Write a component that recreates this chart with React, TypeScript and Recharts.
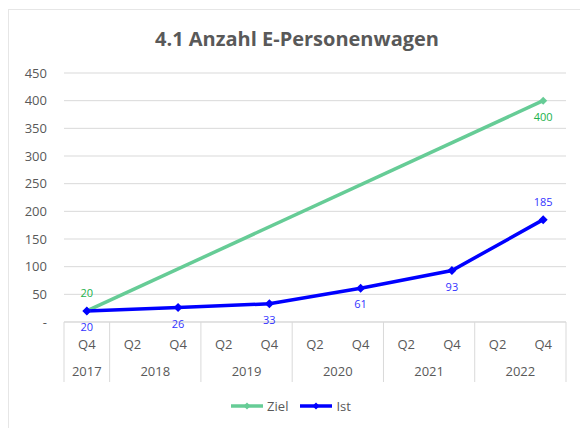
import React from "react";
import {
  LineChart,
  Line,
  XAxis,
  YAxis,
  CartesianGrid,
  LabelList,
} from "recharts";

const quarters = ["Q4", "Q2", "Q4", "Q2", "Q4", "Q2", "Q4", "Q2", "Q4", "Q2", "Q4"];
const years = ["2017", "2018", "2018", "2019", "2019", "2020", "2020", "2021", "2021", "2022", "2022"];
const ziel = [20, null, null, null, null, null, null, null, null, null, 400];
const ist = [20, null, 26, null, 33, null, 61, null, 93, null, 185];
const yTicks = [0, 50, 100, 150, 200, 250, 300, 350, 400, 450];

const data = quarters.map((q, i) => ({
  idx: i,
  q,
  year: years[i],
  ziel: ziel[i],
  ist: ist[i],
}));

const W = 580;
const H = 428;
const M = { top: 73, right: 14, bottom: 46, left: 0 };
const Y_W = 64;
const PLOT_BOTTOM = H - M.bottom - 60;
const BAND = (W - M.left - Y_W - M.right) / quarters.length;

const FONT = "'Open Sans', 'Noto Sans', sans-serif";
const GRAY = "#595959";
const LINE_GRAY = "#d9d9d9";
const GREEN = "#66cc96";
const GREEN_TXT = "#22b14c";
const BLUE = "#0000ff";
const BLUE_TXT = "#3333ff";

function Diamond({ cx, cy, fill, r }: any) {
  if (cx == null || cy == null || isNaN(cx) || isNaN(cy)) return null;
  return (
    <path
      d={`M${cx},${cy - r}L${cx + r},${cy}L${cx},${cy + r}L${cx - r},${cy}Z`}
      fill={fill}
    />
  );
}

function QuarterTick({ x, payload }: any) {
  const i = payload.value;
  const startsGroup = i === 0 || years[i] !== years[i - 1];
  const last = i === quarters.length - 1;
  return (
    <g>
      {startsGroup && (
        <line
          x1={x - BAND / 2}
          x2={x - BAND / 2}
          y1={PLOT_BOTTOM}
          y2={PLOT_BOTTOM + 60}
          stroke={LINE_GRAY}
        />
      )}
      {last && (
        <line
          x1={x + BAND / 2}
          x2={x + BAND / 2}
          y1={PLOT_BOTTOM}
          y2={PLOT_BOTTOM + 60}
          stroke={LINE_GRAY}
        />
      )}
      <text
        x={x}
        y={PLOT_BOTTOM + 27}
        textAnchor="middle"
        fontSize={13}
        fill={GRAY}
        fontFamily={FONT}
      >
        {quarters[i]}
      </text>
    </g>
  );
}

function YearTick({ x, payload }: any) {
  const i = payload.value;
  const startsGroup = i === 0 || years[i] !== years[i - 1];
  if (!startsGroup) return null;
  const size = years.filter((y) => y === years[i]).length;
  const cx = x + ((size - 1) * BAND) / 2;
  return (
    <text
      x={cx}
      y={PLOT_BOTTOM + 54}
      textAnchor="middle"
      fontSize={13}
      fill={GRAY}
      fontFamily={FONT}
    >
      {years[i]}
    </text>
  );
}

function PointLabel(color: string, place: (i: number) => "above" | "below") {
  return (props: any) => {
    const { x, y, value, index } = props;
    if (value == null || x == null || y == null) return null;
    const above = place(index) === "above";
    return (
      <text
        x={x}
        y={above ? y - 14 : y + 20}
        textAnchor="middle"
        fontSize={11}
        fill={color}
        fontFamily={FONT}
      >
        {value}
      </text>
    );
  };
}

function LegendBox() {
  const items = [
    { name: "Ziel", color: GREEN },
    { name: "Ist", color: BLUE },
  ];
  return (
    <div
      style={{
        position: "absolute",
        top: 397,
        left: 0,
        width: W,
        display: "flex",
        justifyContent: "center",
        gap: 10,
        fontFamily: FONT,
        fontSize: 13,
        color: GRAY,
      }}
    >
      {items.map((it) => (
        <div key={it.name} style={{ display: "flex", alignItems: "center" }}>
          <svg width={36} height={16}>
            <line x1={2} x2={34} y1={8} y2={8} stroke={it.color} strokeWidth={3.5} />
            <Diamond cx={18} cy={8} r={3.5} fill={it.color} />
          </svg>
          <span style={{ marginLeft: 2 }}>{it.name}</span>
        </div>
      ))}
    </div>
  );
}

export default function App() {
  const pad = { left: BAND / 2, right: BAND / 2 };
  return (
    <div
      style={{
        position: "fixed",
        left: 0,
        top: 0,
        width: W,
        height: H,
        background: "#fff",
      }}
    >
      <div
        style={{
          position: "absolute",
          left: 8,
          top: 9,
          width: W - 8,
          height: H - 9,
          borderLeft: "1px solid #e6e6e6",
          borderTop: "1px solid #e6e6e6",
        }}
      />
      <div
        style={{
          position: "absolute",
          top: 25,
          left: 0,
          width: W,
          textAlign: "center",
          fontFamily: FONT,
          fontWeight: 700,
          fontSize: 20,
          color: GRAY,
          paddingLeft: 14,
          boxSizing: "border-box",
        }}
      >
        4.1 Anzahl E-Personenwagen
      </div>
      <LineChart
        width={W}
        height={H - 46}
        data={data}
        margin={{ top: M.top, right: M.right, bottom: 0, left: M.left }}
        style={{ position: "absolute", left: 0, top: 0 }}
      >
        <CartesianGrid vertical={false} stroke={LINE_GRAY} />
        <XAxis
          dataKey="idx"
          type="category"
          interval={0}
          height={30}
          padding={pad}
          tick={<QuarterTick />}
          tickLine={false}
          axisLine={{ stroke: LINE_GRAY }}
        />
        <XAxis
          dataKey="idx"
          xAxisId="year"
          type="category"
          interval={0}
          height={30}
          padding={pad}
          tick={<YearTick />}
          tickLine={false}
          axisLine={false}
        />
        <YAxis
          width={Y_W}
          domain={[0, 450]}
          ticks={yTicks}
          interval={0}
          tickFormatter={(v: number) => (v === 0 ? "-" : String(v))}
          tick={{ fontSize: 13, fill: GRAY, fontFamily: FONT }}
          tickSize={0}
          tickMargin={17}
          axisLine={false}
          tickLine={false}
        />
        <Line
          dataKey="ziel"
          stroke={GREEN}
          strokeWidth={3.5}
          connectNulls
          isAnimationActive={false}
          dot={(p: any) => <Diamond key={`z${p.index}`} {...p} r={4} fill={GREEN} />}
          activeDot={false}
        >
          <LabelList
            dataKey="ziel"
            content={PointLabel(GREEN_TXT, (i) => (i === 0 ? "above" : "below"))}
          />
        </Line>
        <Line
          dataKey="ist"
          stroke={BLUE}
          strokeWidth={3.5}
          connectNulls
          isAnimationActive={false}
          dot={(p: any) => <Diamond key={`i${p.index}`} {...p} r={4.5} fill={BLUE} />}
          activeDot={false}
        >
          <LabelList
            dataKey="ist"
            content={PointLabel(BLUE_TXT, (i) => (i === quarters.length - 1 ? "above" : "below"))}
          />
        </Line>
      </LineChart>
      <LegendBox />
    </div>
  );
}
